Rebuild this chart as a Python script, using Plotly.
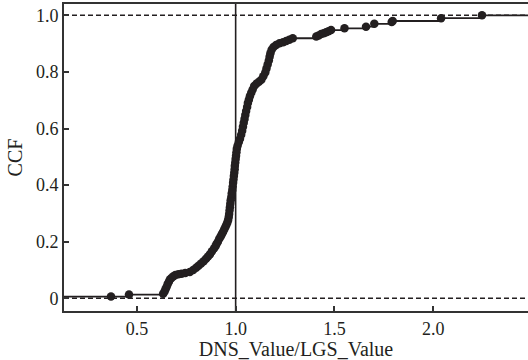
import plotly.graph_objects as go

# ---- data (value ratio, cumulative fraction) ----
ratio = [0.369, 0.460, 0.633, 0.640, 0.645, 0.650, 0.656, 0.662, 0.667, 0.675,
         0.685, 0.695, 0.710, 0.726, 0.745, 0.768, 0.785, 0.800, 0.812, 0.825,
         0.838, 0.850, 0.860, 0.870, 0.880, 0.890, 0.898, 0.903, 0.910, 0.917,
         0.924, 0.930, 0.936, 0.942, 0.948, 0.953, 0.958, 0.962, 0.965, 0.967,
         0.969, 0.971, 0.973, 0.975, 0.978, 0.980, 0.983, 0.985, 0.987, 0.989,
         0.991, 0.993, 0.995, 0.996, 0.998, 1.000, 1.002, 1.004, 1.006, 1.010,
         1.016, 1.022, 1.028, 1.033, 1.037, 1.041, 1.045, 1.049, 1.053, 1.058,
         1.062, 1.067, 1.072, 1.079, 1.086, 1.094, 1.105, 1.118, 1.130, 1.140,
         1.150, 1.156, 1.162, 1.168, 1.172, 1.176, 1.182, 1.192, 1.205, 1.222,
         1.240, 1.256, 1.272, 1.289, 1.408, 1.420, 1.433, 1.446, 1.458, 1.470,
         1.483, 1.551, 1.660, 1.702, 1.790, 1.795, 2.040, 2.247]
ccf = [0.006, 0.013, 0.016, 0.024, 0.032, 0.040, 0.050, 0.058, 0.066, 0.072,
       0.078, 0.082, 0.085, 0.087, 0.089, 0.093, 0.100, 0.108, 0.115, 0.123,
       0.131, 0.140, 0.148, 0.156, 0.166, 0.176, 0.184, 0.192, 0.200, 0.210,
       0.218, 0.226, 0.234, 0.243, 0.252, 0.260, 0.268, 0.277, 0.287, 0.298,
       0.310, 0.322, 0.334, 0.346, 0.358, 0.370, 0.383, 0.395, 0.408, 0.420,
       0.432, 0.444, 0.456, 0.468, 0.480, 0.492, 0.504, 0.516, 0.528, 0.540,
       0.552, 0.564, 0.578, 0.592, 0.606, 0.620, 0.634, 0.648, 0.662, 0.676,
       0.690, 0.702, 0.714, 0.726, 0.738, 0.750, 0.758, 0.765, 0.772, 0.785,
       0.798, 0.812, 0.826, 0.840, 0.854, 0.866, 0.878, 0.888, 0.895, 0.901,
       0.905, 0.909, 0.914, 0.919, 0.925, 0.929, 0.934, 0.937, 0.940, 0.944,
       0.948, 0.954, 0.960, 0.970, 0.976, 0.980, 0.990, 1.000]

x_ticks = [0.5, 1.0, 1.5, 2.0]
x_ticktext = ["0.5", "1.0", "1.5", "2.0"]
y_ticks = [0, 0.2, 0.4, 0.6, 0.8, 1.0]
y_ticktext = ["0", "0.2", "0.4", "0.6", "0.8", "1.0"]

X_RANGE = [0.131, 2.48]
Y_RANGE = [-0.045, 1.04]
INK = "#231f20"
FONT = "Liberation Serif"

fig = go.Figure()

# step line, padded to the plot edges
fig.add_trace(go.Scatter(
    x=[X_RANGE[0]] + ratio + [X_RANGE[1]],
    y=[ccf[0]] + ccf + [ccf[-1]],
    mode="lines", line=dict(color=INK, width=1.8, shape="hv"),
    hoverinfo="skip", showlegend=False))

fig.add_trace(go.Scatter(
    x=ratio, y=ccf, mode="markers",
    marker=dict(color=INK, size=8.5, line=dict(width=0)),
    showlegend=False))

# reference lines
for yv in (0, 1):
    fig.add_shape(type="line", xref="paper", x0=0, x1=1, yref="y", y0=yv, y1=yv,
                  line=dict(color=INK, width=1.4, dash="5px,3px"), layer="below")
fig.add_shape(type="line", xref="x", x0=1, x1=1, yref="paper", y0=0, y1=1,
              line=dict(color=INK, width=1.6), layer="below")

fig.update_layout(
    width=528, height=360,
    margin=dict(l=64, r=0, t=4, b=49),
    paper_bgcolor="white", plot_bgcolor="white",
    font=dict(family=FONT, color=INK, size=18),
    xaxis=dict(range=X_RANGE, tickvals=x_ticks, ticktext=x_ticktext,
               showgrid=False, zeroline=False,
               showline=True, mirror=True, linecolor="#333", linewidth=2,
               ticks="inside", ticklen=5, tickwidth=2, tickcolor="#333",
               tickfont=dict(size=18), ticklabelstandoff=0,
               title=dict(text="DNS_Value/LGS_Value", font=dict(size=20), standoff=2)),
    yaxis=dict(range=Y_RANGE, tickvals=y_ticks, ticktext=y_ticktext,
               showgrid=False, zeroline=False,
               showline=True, mirror=False, linecolor="#333", linewidth=2,
               ticks="inside", ticklen=5, tickwidth=2, tickcolor="#333",
               tickfont=dict(size=18),
               title=dict(text="CCF", font=dict(size=20), standoff=8)),
)

fig.write_html("out.html")
